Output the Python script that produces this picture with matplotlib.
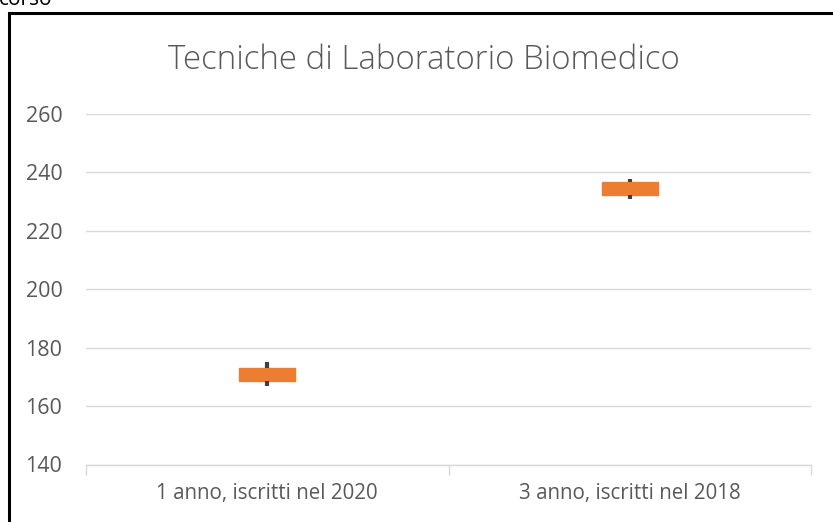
import matplotlib
matplotlib.use("Agg")
import matplotlib.pyplot as plt
from matplotlib.patches import Rectangle

plt.rcParams['font.family'] = ['Open Sans', 'DejaVu Sans']

categories = ["1 anno, iscritti nel 2020", "3 anno, iscritti nel 2018"]
whisker_low = [167.0, 230.8]
q1 = [168.7, 232.3]
median = [171.0, 234.5]
q3 = [173.2, 236.6]
whisker_high = [175.2, 237.7]
title = "Tecniche di Laboratorio Biomedico"
yticks = [140, 160, 180, 200, 220, 240, 260]

W, H = 833, 522
fig = plt.figure(figsize=(W / 100, H / 100), dpi=100)
fig.patch.set_facecolor("white")

left, right, top, bottom = 86, 811, 114, 464.5
ax = fig.add_axes([left / W, 1 - bottom / H, (right - left) / W, (bottom - top) / H])

stats = []
for i in range(len(categories)):
    stats.append(dict(med=median[i], q1=q1[i], q3=q3[i],
                      whislo=whisker_low[i], whishi=whisker_high[i],
                      fliers=[], label=categories[i]))

positions = list(range(1, len(categories) + 1))
orange = "#ED7D31"
ax.bxp(stats, positions=positions, widths=0.155, patch_artist=True,
       showcaps=False, showfliers=False,
       boxprops=dict(facecolor=orange, edgecolor=orange, linewidth=1),
       medianprops=dict(color=orange, linewidth=0),
       whiskerprops=dict(color="#404040", linewidth=3, solid_capstyle="butt"),
       zorder=3)

ax.set_xlim(0.5, len(categories) + 0.5)
ax.set_ylim(140, 260)
ax.set_yticks(yticks)
ax.set_yticklabels([str(v) for v in yticks])
ax.grid(axis="y", color="#D9D9D9", linewidth=1)
ax.set_axisbelow(True)

for s in ["top", "right", "left"]:
    ax.spines[s].set_visible(False)
ax.spines["bottom"].set_color("#D9D9D9")
ax.spines["bottom"].set_linewidth(1)

ax.set_xticks([0.5 + i for i in range(len(categories) + 1)])
ax.set_xticklabels([""] * (len(categories) + 1))
ax.set_xticks(positions, minor=True)
ax.set_xticklabels(categories, minor=True)
ax.tick_params(axis="x", which="major", length=7, color="#D9D9D9", width=1, direction="out")
ax.tick_params(axis="x", which="minor", length=0, pad=13, labelsize=14.8, labelcolor="#595959")
ax.tick_params(axis="y", length=0, pad=17, labelsize=15.5, labelcolor="#595959")

fig.text(424 / W, 1 - 60 / H, title, ha="center", va="center",
         fontsize=23.8, color="#595959", fontweight="light")

# chart frame (partially cropped)
fig.patches.append(Rectangle((8.5 / W, -0.1), 1.2, 1.1 - 12.5 / H,
                             transform=fig.transFigure, fill=False,
                             edgecolor="black", linewidth=2.2, figure=fig))
fig.text(52 / W, 1 - 5 / H, "corso", ha="right", va="baseline",
         fontsize=15, color="black")

fig.savefig("out.png", dpi=100, facecolor="white")
